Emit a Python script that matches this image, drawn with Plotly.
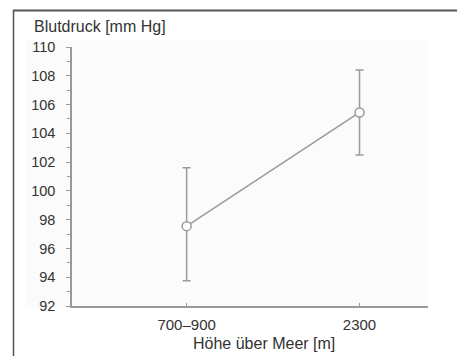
import plotly.graph_objects as go

categories = ["700–900", "2300"]
x_pos = [0, 1]
bp_mean = [97.55, 105.45]
bp_upper = [101.6, 108.4]
bp_lower = [93.75, 102.5]
y_ticks = [92, 94, 96, 98, 100, 102, 104, 106, 108, 110]

err_plus = [u - m for u, m in zip(bp_upper, bp_mean)]
err_minus = [m - l for m, l in zip(bp_mean, bp_lower)]

GRAY = "#9a9a9a"
TXT = "#333333"
FONT = "Liberation Sans, Arial, Helvetica, sans-serif"

fig = go.Figure()
fig.add_trace(go.Scatter(
    x=x_pos, y=bp_mean,
    mode="lines+markers",
    line=dict(color=GRAY, width=1.5),
    marker=dict(symbol="circle", size=9, color="white",
                line=dict(color=GRAY, width=1.5)),
    error_y=dict(type="data", symmetric=False, array=err_plus,
                 arrayminus=err_minus, color=GRAY, thickness=1.5, width=4),
    showlegend=False,
))

L, R, T, B = 72, 29, 47, 50
W, H = 457, 356
pw = W - L - R
ph = H - T - B

def px_x(px):
    return (px - L) / pw

def px_y(py):
    return (H - B - py) / ph

fig.update_layout(
    width=W, height=H,
    margin=dict(l=L, r=R, t=T, b=B),
    paper_bgcolor="white",
    plot_bgcolor="rgba(0,0,0,0)",
    font=dict(family=FONT, size=14, color=TXT),
    xaxis=dict(
        range=[-0.663, 1.396], tickvals=x_pos, ticktext=categories,
        showline=True, linecolor=GRAY, linewidth=1.5,
        ticks="inside", ticklen=3, tickcolor=GRAY,
        showgrid=False, zeroline=False,
        ticklabelstandoff=4,
        tickfont=dict(size=15, color=TXT),
    ),
    yaxis=dict(
        range=[92, 110], tickvals=y_ticks,
        showline=True, linecolor=GRAY, linewidth=1.5,
        ticks="outside", ticklen=4, tickcolor=GRAY, tickwidth=1,
        minor=dict(dtick=1, ticks="outside", ticklen=3, tickcolor=GRAY, tick0=92),
        showgrid=False, zeroline=False,
        ticklabelstandoff=8,
        tickfont=dict(size=14.5, color=TXT),
    ),
    shapes=[
        dict(type="rect", xref="paper", yref="paper", layer="below",
             x0=px_x(25), x1=px_x(428), y0=px_y(308), y1=px_y(40),
             fillcolor="#fbfbfb", line=dict(width=0)),
        dict(type="line", xref="paper", yref="paper",
             x0=px_x(13), x1=px_x(460), y0=px_y(10.5), y1=px_y(10.5),
             line=dict(color="#555555", width=2)),
        dict(type="line", xref="paper", yref="paper",
             x0=px_x(13.5), x1=px_x(13.5), y0=px_y(10), y1=px_y(360),
             line=dict(color="#555555", width=1.5)),
    ],
    annotations=[
        dict(text="Blutdruck [mm Hg]", xref="paper", yref="paper",
             x=px_x(32), y=px_y(27), xanchor="left", yanchor="middle",
             showarrow=False, font=dict(size=16, color=TXT)),
        dict(text="Höhe über Meer [m]", xref="paper", yref="paper",
             x=px_x(264), y=px_y(343), xanchor="center", yanchor="middle",
             showarrow=False, font=dict(size=16, color=TXT)),
    ],
)

fig.write_html("out.html",
               config={"displayModeBar": False},
               post_script="document.body.style.margin='0';document.body.style.padding='0';")
